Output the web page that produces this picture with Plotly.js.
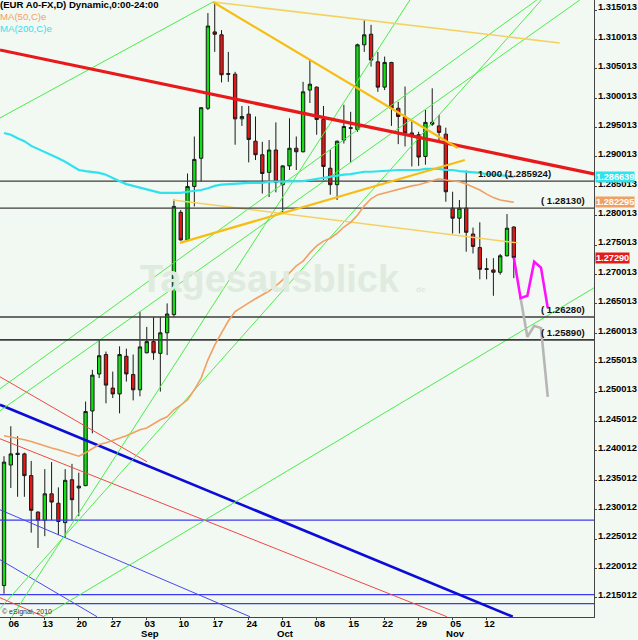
<!DOCTYPE html>
<html>
<head>
<meta charset="utf-8">
<script src="https://cdn.plot.ly/plotly-3.0.1.min.js"></script>
<style>
html,body{margin:0;padding:0;background:#f2f8f2;}
#chart{width:638px;height:640px;}
</style>
</head>
<body>
<div id="chart"></div>
<script>
// ---------- data ----------
const dates = [
 "2012-08-03",
 "2012-08-06","2012-08-07","2012-08-08","2012-08-09","2012-08-10",
 "2012-08-13","2012-08-14","2012-08-15","2012-08-16","2012-08-17",
 "2012-08-20","2012-08-21","2012-08-22","2012-08-23","2012-08-24",
 "2012-08-27","2012-08-28","2012-08-29","2012-08-30","2012-08-31",
 "2012-09-03","2012-09-04","2012-09-05","2012-09-06","2012-09-07",
 "2012-09-10","2012-09-11","2012-09-12","2012-09-13","2012-09-14",
 "2012-09-17","2012-09-18","2012-09-19","2012-09-20","2012-09-21",
 "2012-09-24","2012-09-25","2012-09-26","2012-09-27","2012-09-28",
 "2012-10-01","2012-10-02","2012-10-03","2012-10-04","2012-10-05",
 "2012-10-08","2012-10-09","2012-10-10","2012-10-11","2012-10-12",
 "2012-10-15","2012-10-16","2012-10-17","2012-10-18","2012-10-19",
 "2012-10-22","2012-10-23","2012-10-24","2012-10-25","2012-10-26",
 "2012-10-29","2012-10-30","2012-10-31","2012-11-01","2012-11-02",
 "2012-11-05","2012-11-06","2012-11-07","2012-11-08","2012-11-09",
 "2012-11-12","2012-11-13","2012-11-14","2012-11-15","2012-11-16"
];
const openP = [
 1.2171,
 1.2376,1.2396,1.2395,1.2358,1.2296,
 1.2282,1.2327,1.2311,1.2278,1.2351,
 1.2337,1.2341,1.2468,1.2531,1.2564,
 1.2507,1.2497,1.2561,1.2530,1.2504,
 1.2567,1.2586,1.2566,1.2601,1.2632,
 1.2806,1.2759,1.2850,1.2898,1.2983,
 1.3113,1.3108,1.3042,1.3041,1.2965,
 1.2973,1.2927,1.2904,1.2874,1.2912,
 1.2853,1.2885,1.2915,1.2909,1.3014,
 1.3019,1.2964,1.2881,1.2853,1.2929,
 1.2950,1.2947,1.3091,1.3109,1.3062,
 1.3019,1.3061,1.2983,1.2968,1.2941,
 1.2938,1.2901,1.2959,1.2953,1.2939,
 1.2813,1.2796,1.2813,1.2769,1.2746,
 1.2710,1.2708,1.2704,1.2732,1.2781
];
const highP = [
 1.2391,
 1.2442,1.2425,1.2397,1.2383,1.2297,
 1.2369,1.2381,1.2338,1.2369,1.2378,
 1.2363,1.2484,1.2538,1.2589,1.2569,
 1.2535,1.2578,1.2574,1.2564,1.2637,
 1.2611,1.2628,1.2628,1.2651,1.2828,
 1.2810,1.2872,1.2935,1.2985,1.3145,
 1.3164,1.3116,1.3079,1.3045,1.2987,
 1.2987,1.2969,1.2926,1.2929,1.2959,
 1.2886,1.2966,1.2935,1.3028,1.3066,
 1.3020,1.2987,1.2912,1.2928,1.2989,
 1.2977,1.3093,1.3133,1.3125,1.3079,
 1.3071,1.3062,1.2994,1.3020,1.2963,
 1.2943,1.2980,1.3017,1.2972,1.2950,
 1.2841,1.2827,1.2877,1.2780,1.2789,
 1.2728,1.2728,1.2735,1.2803,1.2782
];
const lowP = [
 1.2157,
 1.2337,1.2322,1.2322,1.2261,1.2235,
 1.2255,1.2282,1.2257,1.2253,1.2283,
 1.2289,1.2340,1.2430,1.2524,1.2481,
 1.2490,1.2464,1.2518,1.2486,1.2493,
 1.2566,1.2555,1.2501,1.2563,1.2628,
 1.2758,1.2757,1.2816,1.2858,1.2980,
 1.3079,1.3027,1.3028,1.2921,1.2953,
 1.2891,1.2895,1.2838,1.2832,1.2840,
 1.2804,1.2878,1.2878,1.2908,1.2992,
 1.2938,1.2861,1.2836,1.2827,1.2923,
 1.2891,1.2943,1.3079,1.3054,1.3011,
 1.3014,1.2953,1.2922,1.2918,1.2884,
 1.2885,1.2887,1.2953,1.2929,1.2824,
 1.2770,1.2770,1.2739,1.2736,1.2692,
 1.2692,1.2664,1.2700,1.2731,1.2694
];
const closeP = [
 1.2381,
 1.2395,1.2394,1.2358,1.2299,1.2282,
 1.2327,1.2313,1.2280,1.2350,1.2317,
 1.2340,1.2467,1.2529,1.2562,1.2512,
 1.2497,1.2564,1.2531,1.2504,1.2577,
 1.2586,1.2567,1.2601,1.2633,1.2816,
 1.2759,1.2850,1.2896,1.2984,1.3123,
 1.3109,1.3040,1.3041,1.2965,1.2969,
 1.2930,1.2904,1.2872,1.2912,1.2857,
 1.2885,1.2915,1.2909,1.3011,1.3024,
 1.2964,1.2884,1.2853,1.2927,1.2952,
 1.2949,1.3091,1.3108,1.3065,1.3019,
 1.3061,1.2983,1.2969,1.2941,1.2936,
 1.2900,1.2959,1.2956,1.2942,1.2841,
 1.2796,1.2813,1.2772,1.2748,1.2709,
 1.2709,1.2704,1.2732,1.2779,1.2729
];
const ma50 = [
 1.2426,1.2424,1.2422,1.2419,1.2416,1.2412,1.2409,1.2405,1.2402,1.2398,
 1.2395,1.2391,1.2397,1.2404,1.2411,1.2414,1.2418,1.2421,1.2426,1.2431,
 1.2436,1.2439,1.2446,1.2453,1.2458,1.2470,1.2478,1.2487,1.2504,1.2524,
 1.2555,1.2580,1.2601,1.2621,1.2637,1.2645,1.2652,1.2659,1.2666,1.2672,
 1.2681,1.2691,1.2703,1.2715,1.2723,1.2737,1.2749,1.2757,1.2762,1.2770,
 1.2781,1.2789,1.2801,1.2817,1.2829,1.2836,1.2839,1.2842,1.2846,1.2849,
 1.2851,1.2853,1.2856,1.2860,1.2863,1.2861,1.2860,1.2858,1.2854,1.2849,
 1.2844,1.2837,1.2831,1.2827,1.2825,1.2823
];
const ma200 = [
 1.2941,1.2938,1.2932,1.2927,1.2919,1.2914,1.2909,1.2904,1.2898,1.2892,
 1.2885,1.2878,1.2876,1.2875,1.2873,1.2870,1.2864,1.2859,1.2854,1.2851,
 1.2847,1.2844,1.2841,1.2839,1.2839,1.2839,1.2839,1.2841,1.2842,1.2844,
 1.2847,1.2851,1.2853,1.2854,1.2854,1.2856,1.2856,1.2856,1.2856,1.2858,
 1.2858,1.2858,1.2859,1.2859,1.2859,1.2861,1.2863,1.2864,1.2866,1.2868,
 1.2870,1.2871,1.2873,1.2875,1.2875,1.2876,1.2876,1.2878,1.2878,1.2878,
 1.2878,1.2878,1.2880,1.2880,1.2880,1.2878,1.2878,1.2876,1.2875,1.2875,
 1.2873,1.2871,1.2870,1.2870,1.2868,1.2866
];
// projections: bars after the last candle, price
const projMagentaSteps = [0,1,2,3,4,5];
const projMagentaP = [1.2729,1.2660,1.2664,1.2722,1.2712,1.2643];
const projGreySteps = [1,2,3,4,5];
const projGreyP = [1.2660,1.2594,1.2613,1.2609,1.2492];

// horizontal levels
const blackLevels = [1.285924, 1.2813, 1.2628, 1.2589];
const blueLevels = [1.22824, 1.21554, 1.21401];

// drawn trendlines: [barIndex, price] anchor pairs
const redThick   = [[-0.59,1.30822],[86.8,1.28713]];
const redThin1   = [[-0.59,1.25261],[21.03,1.23816]];
const redThin2   = [[-0.59,1.24207],[65.15,1.21180]];
const redThin3   = [[-0.59,1.21503],[5.88,1.21180]];
const blueThick  = [[-0.59,1.24785],[74.85,1.21180]];
const blueThin1  = [[-0.59,1.22999],[36.18,1.21180]];
const blueThin2  = [[-0.59,1.22149],[13.68,1.21180]];
const greenLines = [
 [[-0.59,1.29666],[30.74,1.31638]],
 [[5.74,1.21180],[86.8,1.26775]],
 [[1.18,1.21180],[59.71,1.31673]],
 [[-0.59,1.21316],[79.06,1.31673]],
 [[-0.59,1.25057],[78.38,1.31673]],
 [[-0.59,1.24683],[84.71,1.31673]]
];
const goldThick1 = [[30.74,1.31638],[66.76,1.29155]];
const goldThick2 = [[25.88,1.27540],[67.79,1.28951]];
const yellowThin1 = [[30.74,1.31638],[81.76,1.30941]];
const yellowThin2 = [[24.85,1.28271],[75.59,1.27540]];

// axis ticks
const xTickDates = ["2012-08-06","2012-08-13","2012-08-20","2012-08-27","2012-09-03","2012-09-10","2012-09-17","2012-09-24","2012-10-01","2012-10-08","2012-10-15","2012-10-22","2012-10-29","2012-11-05","2012-11-12"];
const xTickText = ["06","13","20","27","03","10","17","24","01","08","15","22","29","05","12"];
const monthDates = ["2012-09-03","2012-10-01","2012-11-05"];
const monthText = ["Sep","Oct","Nov"];
const yTickVals = [1.215012,1.220012,1.225012,1.230012,1.235012,1.240012,1.245012,1.250013,1.255013,1.260013,1.265013,1.270013,1.275013,1.280013,1.285013,1.290013,1.295013,1.300013,1.305013,1.310013,1.315013];
const yTickText = yTickVals.map(v => v.toFixed(6));

const lastValues = {ma200: 1.286639, ma50: 1.282295, close: 1.27290};

// ---------- build ----------
const idx = dates.map((d,i)=>i);
const last = idx.length-1;
const traces = [];
function seg(pts, color, width){
  traces.push({type:'scatter', mode:'lines', x:pts.map(p=>p[0]), y:pts.map(p=>p[1]),
    line:{color:color, width:width}, hoverinfo:'skip', showlegend:false});
}
const xr = [-0.59, 86.8];
blueLevels.forEach(v=>seg([[xr[0],v],[xr[1],v]], '#3a3af5', 1.2));
seg(redThin1,'#f04848',1); seg(redThin2,'#f04848',1); seg(redThin3,'#f04848',1);
seg(blueThin1,'#4848ee',1); seg(blueThin2,'#4848ee',1);
seg(blueThick,'#0c0cd8',2.6);
greenLines.forEach(g=>seg(g,'#4cec4c',1));
seg(yellowThin1,'#f4d262',1.5); seg(yellowThin2,'#f4d262',1.5);
blackLevels.forEach((v,k)=>seg([[xr[0],v],[xr[1],v]], '#3c3c3c', k>=2?1.6:1.2));
seg(redThick,'#e8191a',3.2);
traces.push({type:'scatter',mode:'lines',x:idx,y:ma50,line:{color:'#f2a062',width:1.6},hoverinfo:'skip'});
traces.push({type:'scatter',mode:'lines',x:idx,y:ma200,line:{color:'#2fe2ee',width:2.2},hoverinfo:'skip'});
seg(goldThick1,'#f7bd12',2.2); seg(goldThick2,'#f7bd12',2.2);
traces.push({type:'candlestick', x:idx, open:openP, high:highP, low:lowP, close:closeP,
  increasing:{line:{color:'#1a1a1a',width:1}, fillcolor:'#12e012'},
  decreasing:{line:{color:'#1a1a1a',width:1}, fillcolor:'#e41616'},
  whiskerwidth:0, hoverinfo:'skip', showlegend:false});
traces.push({type:'scatter',mode:'lines',x:projGreySteps.map(s=>last+s),y:projGreyP,line:{color:'#b6b6b6',width:2.6},hoverinfo:'skip'});
traces.push({type:'scatter',mode:'lines',x:projMagentaSteps.map(s=>last+s),y:projMagentaP,line:{color:'#ff10ff',width:2.6},hoverinfo:'skip'});

const F = 'Liberation Sans, Arial, sans-serif';
const xTickVals = xTickDates.map(d=>dates.indexOf(d));

const ann = [];
function txt(o){ ann.push(Object.assign({showarrow:false, borderpad:0}, o)); }
txt({xref:'paper',yref:'paper',x:0,y:1,xanchor:'left',yanchor:'middle',yshift:-4.5,xshift:-1,
  text:'(EUR A0-FX,D) Dynamic,0:00-24:00', font:{family:F,size:9.6,color:'#000',weight:'bold'}});
txt({xref:'paper',yref:'paper',x:0,y:1,xanchor:'left',yanchor:'middle',yshift:-16,xshift:-1,
  text:'MA(50,C)e', font:{family:F,size:9.6,color:'#f2a062'}});
txt({xref:'paper',yref:'paper',x:0,y:1,xanchor:'left',yanchor:'middle',yshift:-28.3,xshift:-1,
  text:'MA(200,C)e', font:{family:F,size:9.6,color:'#2fe2ee'}});
// month labels under the first tick of each month
monthDates.forEach((d,k)=>txt({xref:'x',yref:'paper',x:dates.indexOf(d),y:0,xanchor:'center',yanchor:'middle',
  xshift:3,yshift:-16.5,text:monthText[k],font:{family:F,size:9.6,color:'#000',weight:'bold'}}));
// level labels
txt({xref:'paper',yref:'y',x:552/594,y:blackLevels[0],xanchor:'right',yanchor:'bottom',yshift:1,
  text:'1.000 (1.285924)', font:{family:F,size:9.6,color:'#111',weight:'bold'}});
[1,2,3].forEach(k=>txt({xref:'paper',yref:'y',x:586/594,y:blackLevels[k],xanchor:'right',yanchor:'bottom',yshift:1,
  text:'( '+blackLevels[k].toFixed(5)+')', font:{family:F,size:9.6,color:'#111',weight:'bold'}}));
// right value tags
const tagStyle = [[lastValues.ma200,'#2fe2ee',6],[lastValues.ma50,'#f2a062',6],[lastValues.close,'#e41a1a',5]];
tagStyle.forEach(t=>txt({xref:'paper',yref:'y',x:1,y:t[0],xanchor:'left',yanchor:'middle',xshift:1,
  text:t[0].toFixed(t[2]), bgcolor:t[1], borderpad:0, font:{family:F,size:9.2,color:'#fff',weight:'bold'}}));
// watermark
txt({xref:'paper',yref:'paper',x:270/594,y:1-279/617,xanchor:'center',yanchor:'middle',
  text:'Tagesausblick', font:{family:F,size:38,color:'#e0ebe0',weight:'bold'}});
txt({xref:'paper',yref:'paper',x:421/594,y:1-289/617,xanchor:'center',yanchor:'middle',
  text:'de', font:{family:F,size:8,color:'#dde9dd',weight:'bold'}});
txt({xref:'paper',yref:'paper',x:0,y:0,xanchor:'left',yanchor:'middle',yshift:5,xshift:1,
  text:'© eSignal, 2010', font:{family:F,size:7,color:'#333'}});

const layout = {
  width:638, height:640,
  margin:{l:0,r:44,t:0,b:23,pad:0},
  paper_bgcolor:'#f2f8f2', plot_bgcolor:'#f2f8f2',
  showlegend:false, hovermode:false,
  xaxis:{range:xr, tickvals:xTickVals, ticktext:xTickText, ticklabelshift:3, ticklabelstandoff:-5,
    tickfont:{family:F,size:9.6,color:'#000',weight:'bold'},
    showgrid:false, zeroline:false, showline:true, linecolor:'#444', linewidth:1,
    ticks:'outside', ticklen:2, tickcolor:'#444', rangeslider:{visible:false}, fixedrange:true, automargin:false},
  yaxis:{side:'right', range:[1.211745,1.316725], tickvals:yTickVals, ticktext:yTickText,
    ticklabelshift:-3, ticklabelstandoff:-1,
    tickfont:{family:F,size:9.4,color:'#000',weight:'bold'},
    showgrid:false, zeroline:false, showline:true, linecolor:'#444', linewidth:1,
    ticks:'outside', ticklen:2, tickcolor:'#444', fixedrange:true, automargin:false},
  annotations:ann
};
Plotly.newPlot('chart', traces, layout, {staticPlot:true, displayModeBar:false});
</script>
</body>
</html>
